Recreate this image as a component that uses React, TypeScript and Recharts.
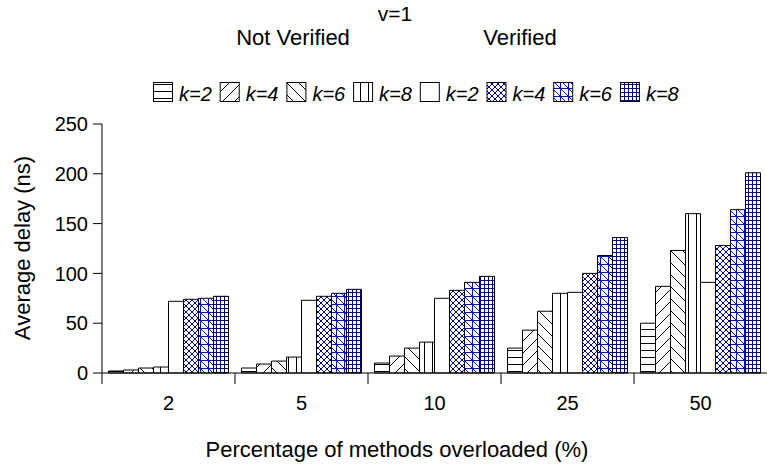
import React from 'react'
import { BarChart, Bar, XAxis, YAxis } from 'recharts'

const FONT = '"Liberation Sans", Arial, sans-serif'

// percentage of methods overloaded
const pcts = ['2', '5', '10', '25', '50']

// average delay (ns), not verified
const nvK2 = [2, 5, 10, 25, 50]
const nvK4 = [3, 9, 17, 43, 87]
const nvK6 = [5, 12, 25, 62, 123]
const nvK8 = [6, 16, 31, 80, 160]

// average delay (ns), verified
const vK2 = [72, 73, 75, 81, 91]
const vK4 = [74, 77, 83, 100, 128]
const vK6 = [75, 80, 91, 118, 164]
const vK8 = [77, 84, 97, 136, 201]

const yTicks = [0, 50, 100, 150, 200, 250]

const seriesKeys = ['nvK2', 'nvK4', 'nvK6', 'nvK8', 'vK2', 'vK4', 'vK6', 'vK8']
const legendLabels = ['k=2', 'k=4', 'k=6', 'k=8', 'k=2', 'k=4', 'k=6', 'k=8']

const data = pcts.map((p, i) => ({
  pct: p,
  nvK2: nvK2[i],
  nvK4: nvK4[i],
  nvK6: nvK6[i],
  nvK8: nvK8[i],
  vK2: vK2[i],
  vK4: vK4[i],
  vK6: vK6[i],
  vK8: vK8[i],
}))

function Patterns() {
  return (
    <svg width={0} height={0} style={{ position: 'absolute' }}>
      <defs>
        <pattern id="nvK2" width={8} height={7} patternUnits="userSpaceOnUse">
          <rect width={8} height={7} fill="#fff" />
          <line x1={0} y1={0.5} x2={8} y2={0.5} stroke="#000" strokeWidth={1} />
        </pattern>
        <pattern id="nvK4" width={12} height={12} patternUnits="userSpaceOnUse">
          <rect width={12} height={12} fill="#fff" />
          <path d="M0,12 L12,0 M-3,3 L3,-3 M9,15 L15,9" stroke="#000" strokeWidth={1} />
        </pattern>
        <pattern id="nvK6" width={12} height={12} patternUnits="userSpaceOnUse">
          <rect width={12} height={12} fill="#fff" />
          <path d="M0,0 L12,12 M-3,9 L3,15 M9,-3 L15,3" stroke="#000" strokeWidth={1} />
        </pattern>
        <pattern id="nvK8" width={8} height={8} patternUnits="userSpaceOnUse">
          <rect width={8} height={8} fill="#fff" />
          <line x1={0.5} y1={0} x2={0.5} y2={8} stroke="#000" strokeWidth={1} />
        </pattern>
        <pattern id="vK2" width={8} height={8} patternUnits="userSpaceOnUse">
          <rect width={8} height={8} fill="#fff" />
        </pattern>
        <pattern id="vK4" width={6} height={6} patternUnits="userSpaceOnUse">
          <rect width={6} height={6} fill="#fff" />
          <path d="M0,0 L6,6 M0,6 L6,0" stroke="#000080" strokeWidth={1} />
        </pattern>
        <pattern id="vK6" width={8} height={8} patternUnits="userSpaceOnUse">
          <rect width={8} height={8} fill="#fff" />
          <path d="M0.5,0 L0.5,8 M0,0.5 L8,0.5 M0,0 L8,8" stroke="#0000ff" strokeWidth={1} />
        </pattern>
        <pattern id="vK8" width={4} height={4} patternUnits="userSpaceOnUse">
          <rect width={4} height={4} fill="#fff" />
          <path d="M0.5,0 L0.5,4 M0,0.5 L4,0.5" stroke="#000080" strokeWidth={1} />
        </pattern>
      </defs>
    </svg>
  )
}

function CategoryTick(props: any) {
  const { x, y, payload } = props
  const half = payload && payload.offset ? payload.offset : 66.5
  return (
    <g>
      <line x1={x - half} y1={y} x2={x - half} y2={y + 11} stroke="#000" strokeWidth={1} />
      <text x={x} y={y + 37} textAnchor="middle" fontSize={20} fontFamily={FONT} fill="#000">
        {payload.value}
      </text>
    </g>
  )
}

function Overlay() {
  return (
    <svg
      width={767}
      height={464}
      style={{ position: 'absolute', left: 0, top: 0, pointerEvents: 'none' }}
      fontFamily={FONT}
    >
      <text x={395} y={21} textAnchor="middle" fontSize={21}>v=1</text>
      <text x={293} y={45} textAnchor="middle" fontSize={22}>Not Verified</text>
      <text x={520} y={45} textAnchor="middle" fontSize={22}>Verified</text>
      {seriesKeys.map((k, i) => {
        const ix = 153 + i * 66.7
        return (
          <g key={k}>
            <rect x={ix + 0.5} y={82.5} width={19} height={19} fill={`url(#${k})`} stroke="#000" strokeWidth={1} />
            <text x={ix + 26} y={101} fontSize={20} fontStyle="italic">{legendLabels[i]}</text>
          </g>
        )
      })}
      <text x={0} y={0} transform="translate(30, 248) rotate(-90)" textAnchor="middle" fontSize={22}>
        Average delay (ns)
      </text>
      <text x={397} y={457} textAnchor="middle" fontSize={22}>
        Percentage of methods overloaded (%)
      </text>
    </svg>
  )
}

export default function App() {
  return (
    <div style={{ position: 'absolute', left: 0, top: 0, width: 767, height: 464, background: '#fff', overflow: 'hidden' }}>
      <Patterns />
      <BarChart
        width={767}
        height={464}
        data={data}
        margin={{ top: 124, right: 0, bottom: 0, left: 0 }}
        barCategoryGap={6.5}
        barGap={0}
      >
        <XAxis
          dataKey="pct"
          height={91}
          interval={0}
          tickLine={false}
          tickSize={0}
          tickMargin={0}
          axisLine={{ stroke: '#000', strokeWidth: 1 }}
          tick={<CategoryTick />}
        />
        <YAxis
          width={102}
          domain={[0, 250]}
          ticks={yTicks}
          interval={0}
          tickSize={9}
          tickMargin={5}
          axisLine={{ stroke: '#000', strokeWidth: 1 }}
          tickLine={{ stroke: '#000' }}
          tick={{ fill: '#000', fontSize: 20, fontFamily: FONT }}
        />
        {seriesKeys.map((k) => (
          <Bar key={k} dataKey={k} fill={`url(#${k})`} stroke="#000" strokeWidth={1} isAnimationActive={false} />
        ))}
      </BarChart>
      <Overlay />
    </div>
  )
}
